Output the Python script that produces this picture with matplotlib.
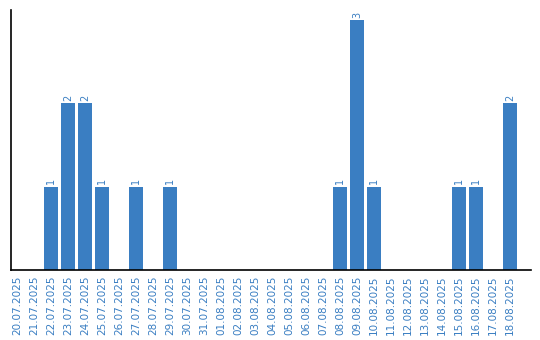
import matplotlib
matplotlib.use("Agg")
import matplotlib.pyplot as plt
import numpy as np

# daily counts
dates = ["20.07.2025", "21.07.2025", "22.07.2025", "23.07.2025", "24.07.2025",
         "25.07.2025", "26.07.2025", "27.07.2025", "28.07.2025", "29.07.2025",
         "30.07.2025", "31.07.2025", "01.08.2025", "02.08.2025", "03.08.2025",
         "04.08.2025", "05.08.2025", "06.08.2025", "07.08.2025", "08.08.2025",
         "09.08.2025", "10.08.2025", "11.08.2025", "12.08.2025", "13.08.2025",
         "14.08.2025", "15.08.2025", "16.08.2025", "17.08.2025", "18.08.2025"]
counts = [0, 0, 1, 2, 2, 1, 0, 1, 0, 1,
          0, 0, 0, 0, 0, 0, 0, 0, 0, 1,
          3, 1, 0, 0, 0, 0, 1, 1, 0, 2]

blue = "#3a7ec2"

fig = plt.figure(figsize=(5.4, 3.4), dpi=100)
ax = fig.add_axes([10.5 / 540, 70 / 340, 520 / 540, 260 / 340])

x = np.arange(len(dates))
ax.bar(x, counts, width=0.82, color=blue)

for xi, c in zip(x, counts):
    if c > 0:
        ax.text(xi, c + 0.03, str(c), rotation=90, ha="center", va="bottom",
                fontsize=7, color=blue)

ax.set_xlim(-0.38, 30.2)
ax.set_ylim(0, 3.12)
ax.set_xticks(x)
ax.set_xticklabels(dates, rotation=90, fontsize=7.5, color=blue)
ax.tick_params(axis="x", length=0, pad=4)
ax.set_yticks([])
ax.spines["top"].set_visible(False)
ax.spines["right"].set_visible(False)
ax.spines["left"].set_linewidth(1.2)
ax.spines["bottom"].set_linewidth(1.2)

fig.savefig("out.png", dpi=100)
